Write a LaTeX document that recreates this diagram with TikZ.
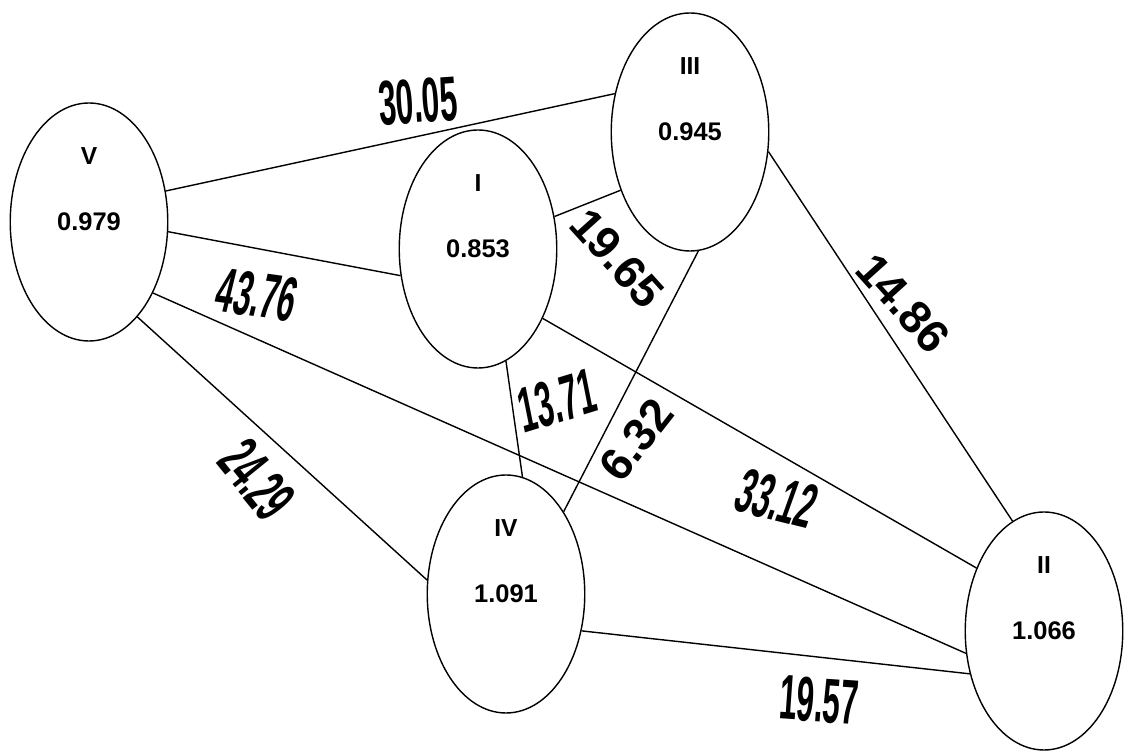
\documentclass[tikz,border=0pt]{standalone}
\usepackage{fontspec}
\setmainfont{Liberation Sans}
\usepackage{tikz}
\usetikzlibrary{shapes.geometric, positioning}

\begin{document}
\begin{tikzpicture}[
    site/.style={draw, ellipse, line width=0.8pt, minimum width=3.15cm,
                 minimum height=4.76cm, inner sep=0pt},
    num/.style ={font=\fontsize{14}{16}\selectfont\bfseries, inner sep=0pt},
    val/.style ={font=\fontsize{14.5}{17}\selectfont\bfseries, inner sep=0pt},
    wt/.style  ={font=\fontsize{36}{38}\selectfont\bfseries, xscale=0.5, inner sep=0pt},
    wtn/.style ={font=\fontsize{26}{28}\selectfont\bfseries, inner sep=0pt},
    link/.style={line width=0.8pt}
  ]
  \useasboundingbox (0,0) rectangle (22.66,15.04);

  % Nodes
  \node[site] (v)   at (1.78,10.60) {};
  \node[site] (i)   at (9.56,10.06) {};
  \node[site] (iii) at (13.80,12.40) {};
  \node[site] (iv)  at (10.12,3.16) {};
  \node[site] (ii)  at (20.88,2.42) {};

  % Names and values
  \node[num] (v-n)   at ([yshift=1.32cm]v.center)   {V};
  \node[val] (v-v)   at (v.center)                  {0.979};
  \node[num] (i-n)   at ([yshift=1.32cm]i.center)   {I};
  \node[val] (i-v)   at (i.center)                  {0.853};
  \node[num] (iii-n) at ([yshift=1.32cm]iii.center) {III};
  \node[val] (iii-v) at (iii.center)                {0.945};
  \node[num] (iv-n)  at ([yshift=1.32cm]iv.center)  {IV};
  \node[val] (iv-v)  at (iv.center)                 {1.091};
  \node[num] (ii-n)  at ([yshift=1.32cm]ii.center)  {II};
  \node[val] (ii-v)  at (ii.center)                 {1.066};

  % Links
  \draw[link] (v.22.6)  -- (iii.153);
  \draw[link] (v.-7)    -- (i.199.7);
  \draw[link] (v.-48)   -- (ii.196);
  \draw[link] (v.-63.4) -- (iv.170);
  \draw[link] (i.23)    -- (iii.220.7);
  \draw[link] (i.-47)   -- (ii.137);
  \draw[link] (i.-76)   -- (iv.82);
  \draw[link] (iii.-86.6) -- (iv.55);
  \draw[link] (iii.-14.7) -- (ii.106.8);
  \draw[link] (iv.-26.6)  -- (ii.210);

  % Weights
  \node[rotate=4, wt]  (w-v-iii) at (8.36,13.02) {30.05};
  \node[rotate=-8, wt, xslant=0.2] (w-v-i) at (5.14,9.14) {43.76};
  \node[rotate=-51, wt] (w-v-iv) at (5.14,5.44) {24.29};
  \node[rotate=17, wt, xslant=0.2] (w-i-iv) at (11.14,7.02) {13.71};
  \node[wtn, rotate=52]  (w-iii-iv) at (12.72,6.24) {6.32};
  \node[wtn, rotate=-48] (w-i-iii)  at (12.34,9.88) {19.65};
  \node[wtn, rotate=-48] (w-iii-ii) at (18.06,8.98) {14.86};
  \node[rotate=-14, wt, xslant=0.2] (w-i-ii) at (15.54,5.06) {33.12};
  \node[rotate=-4, wt] (w-iv-ii) at (16.38,1.04) {19.57};
\end{tikzpicture}
\end{document}
